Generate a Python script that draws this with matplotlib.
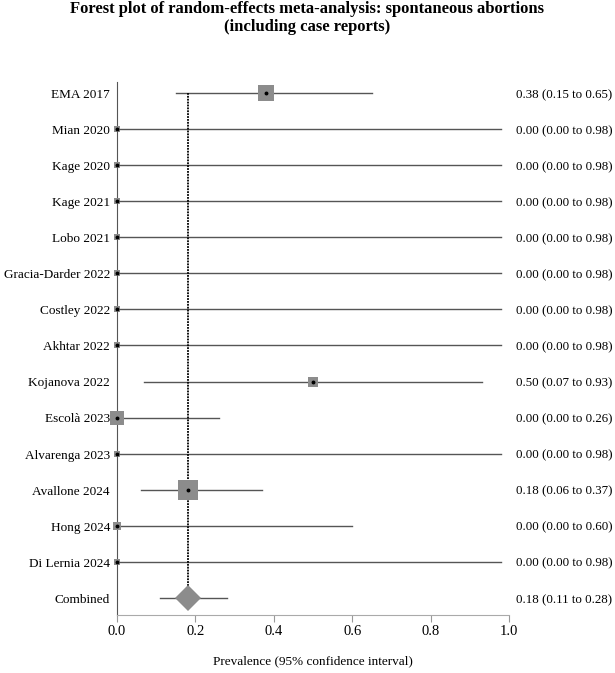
import matplotlib
matplotlib.use("Agg")
import matplotlib.pyplot as plt
import numpy as np

plt.rcParams['font.family'] = ['Liberation Serif', 'DejaVu Serif']

studies = ["EMA 2017", "Mian 2020", "Kage 2020", "Kage 2021", "Lobo 2021",
           "Gracia-Darder 2022", "Costley 2022", "Akhtar 2022", "Kojanova 2022",
           "Escolà 2023", "Alvarenga 2023", "Avallone 2024", "Hong 2024",
           "Di Lernia 2024"]
est = [0.38, 0.00, 0.00, 0.00, 0.00, 0.00, 0.00, 0.00, 0.50, 0.00, 0.00, 0.18, 0.00, 0.00]
lo = [0.15, 0.00, 0.00, 0.00, 0.00, 0.00, 0.00, 0.00, 0.07, 0.00, 0.00, 0.06, 0.00, 0.00]
hi = [0.65, 0.98, 0.98, 0.98, 0.98, 0.98, 0.98, 0.98, 0.93, 0.26, 0.98, 0.37, 0.60, 0.98]
weights = [17.5, 2.8, 2.8, 2.8, 2.8, 2.8, 2.8, 2.8, 6.3, 15.2, 2.8, 28.0, 5.0, 2.8]
combined_label = "Combined"
combined = 0.18
combined_lo = 0.11
combined_hi = 0.28
xticks = [0.0, 0.2, 0.4, 0.6, 0.8, 1.0]

fig = plt.figure(figsize=(6.15, 6.73), dpi=100)
ax = fig.add_axes([117/615, 1-615/673, 392/615, (615-82)/673])

n = len(studies)
for i in range(n):
    ax.plot([lo[i], hi[i]], [i, i], color='#555555', lw=1.0, zorder=2)
    side_px = 3.6 * np.sqrt(weights[i])
    ax.plot(est[i], i, marker='s', ms=side_px * 0.72, mfc='#8c8c8c', mec='#8c8c8c',
            mew=0, zorder=3, clip_on=False)
    ax.plot(est[i], i, marker='o', ms=1.8, color='black', zorder=4, clip_on=False)

# combined
ax.plot([combined_lo, combined_hi], [n, n], color='#555555', lw=1.0, zorder=2)
ax.vlines(combined, 0, n, color='black', lw=1.3, linestyles=(0, (1, 0.6)), zorder=2.5)
ax.plot(combined, n, marker='D', ms=13, mfc='#8c8c8c', mec='#8c8c8c', mew=0, zorder=3)

ax.set_xlim(0, 1)
ax.set_ylim(n + 17/36.07, -11/36.07)
ax.set_yticks([])
ax.set_xticks(xticks)
ax.set_xticklabels([f"{t:.1f}" for t in xticks], fontsize=10.5)
ax.tick_params(axis='x', length=5, color='#999999', pad=2)
for s in ['top', 'right']:
    ax.spines[s].set_visible(False)
ax.spines['bottom'].set_color('#aaaaaa')
ax.spines['left'].set_color('#555555')

labels = studies + [combined_label]
ests = est + [combined]
los = lo + [combined_lo]
his = hi + [combined_hi]
trans = matplotlib.transforms.blended_transform_factory(ax.transAxes, ax.transData)
for i, lab in enumerate(labels):
    ax.text(-0.018, i + 0.05, lab, transform=trans, ha='right', va='center', fontsize=9.5)
    ax.text(1.018, i + 0.05, f"{ests[i]:.2f} ({los[i]:.2f} to {his[i]:.2f})", transform=trans,
            ha='left', va='center', fontsize=9.3)

ax.set_xlabel("Prevalence (95% confidence interval)", fontsize=9.5, labelpad=13)

fig.text(0.5, 1 - 18/673, "Forest plot of random-effects meta-analysis: spontaneous abortions\n(including case reports)",
         ha='center', va='center', fontsize=12, fontweight='bold', linespacing=1.1)

fig.savefig("out.png", dpi=100)
